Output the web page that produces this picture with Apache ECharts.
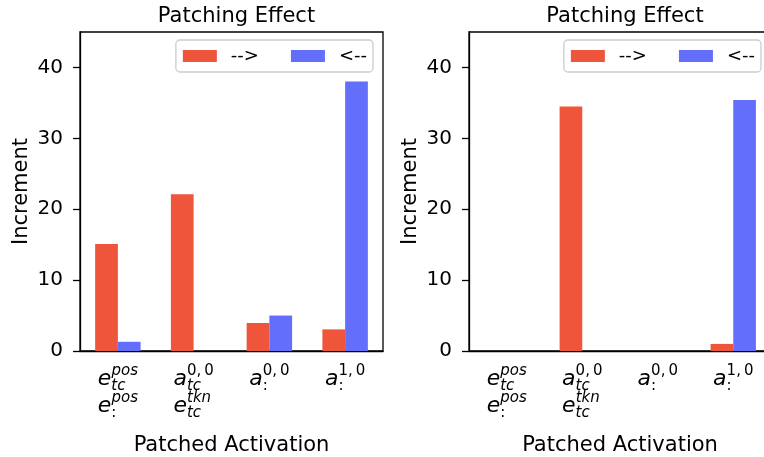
<!DOCTYPE html>
<html>
<head>
<meta charset="utf-8">
<script src="https://cdn.jsdelivr.net/npm/echarts@6/dist/echarts.min.js"></script>
<style>
html, body { margin: 0; padding: 0; background: #fff; }
#chart { width: 764px; height: 457px; }
</style>
</head>
<body>
<div id="chart"></div>
<script>
// categories (patched activations), one entry per tick
var categories = ['e_pos', 'a00_e_tkn', 'a00', 'a10'];
// tick label rows: [base, superscript, subscript]
var tickLabels = [
    [['e', 'pos', 'tc'], ['e', 'pos', ':']],
    [['a', '0,\u20090', 'tc'], ['e', 'tkn', 'tc']],
    [['a', '0,\u20090', ':']],
    [['a', '1,\u20090', ':']]
];
var seriesNames = ['-->', '<--'];
var forwardLeft = [15.1, 22.1, 3.95, 3.05];
var backwardLeft = [1.3, 0, 5.0, 38.0];
var forwardRight = [0, 34.5, 0, 1.0];
var backwardRight = [0, 0, 0, 35.4];
var yTicks = [0, 10, 20, 30, 40];

var FONT = 'DejaVu Sans';
var RED = '#EF553B';
var BLUE = '#636EFA';

var myChart = echarts.init(document.getElementById('chart'));

// mathtext-like label: sub has almost no width so the sup sits above it
function isUpright(s) {
    return /[0-9:]/.test(s);
}
function labelText(value, index) {
    var rows = tickLabels[index];
    var out = [];
    for (var i = 0; i < rows.length; i++) {
        var r = rows[i];
        out.push('{b|' + r[0] + '}' +
            '{' + (isUpright(r[2]) ? 'sbn' : 'sb') + '|' + r[2] + '}' +
            '{' + (isUpright(r[1]) ? 'spn' : 'sp') + '|' + r[1] + '}');
    }
    return out.join('\n');
}
var LH = 27;
var rich = {
    b:   { fontFamily: FONT, fontSize: 22, fontStyle: 'italic', lineHeight: LH, color: '#000', align: 'left' },
    sp:  { fontFamily: FONT, fontSize: 15, fontStyle: 'italic', lineHeight: LH, color: '#000', align: 'left', padding: [0, 0, 16, 0] },
    spn: { fontFamily: FONT, fontSize: 15, lineHeight: LH, color: '#000', align: 'left', padding: [0, 0, 16, 0] },
    sb:  { fontFamily: FONT, fontSize: 15, fontStyle: 'italic', lineHeight: LH, color: '#000', align: 'left', padding: [13, 0, 0, 0], width: 0.1 },
    sbn: { fontFamily: FONT, fontSize: 15, lineHeight: LH, color: '#000', align: 'left', padding: [13, 0, 0, 0], width: 0.1 }
};

var grids = [
    { left: 80, top: 32, width: 303, height: 319, outerBoundsMode: 'none', show: true, borderColor: '#000', borderWidth: 1.3 },
    { left: 469, top: 32, width: 302, height: 319, outerBoundsMode: 'none', show: true, borderColor: '#000', borderWidth: 1.3 }
];

function makeX(i) {
    return {
        type: 'category',
        gridIndex: i,
        data: categories,
        axisLine: { lineStyle: { color: '#000', width: 1.3 } },
        axisTick: { alignWithLabel: true, length: 7, lineStyle: { color: '#000', width: 1.3 } },
        axisLabel: { interval: 0, margin: 15, formatter: labelText, rich: rich, color: '#000' },
        name: 'Patched Activation',
        nameLocation: 'middle',
        nameGap: 84,
        nameTextStyle: { fontFamily: FONT, fontSize: 21, color: '#000' }
    };
}
function makeY(i) {
    return {
        type: 'value',
        gridIndex: i,
        min: 0,
        max: 45,
        splitLine: { show: false },
        axisLine: { show: true, lineStyle: { color: '#000', width: 1.3 } },
        axisTick: { show: true, length: 7, customValues: yTicks, lineStyle: { color: '#000', width: 1.3 } },
        axisLabel: { margin: 17, customValues: yTicks, fontFamily: FONT, fontSize: 20, color: '#000' },
        name: 'Increment',
        nameLocation: 'middle',
        nameGap: 48,
        nameTextStyle: { fontFamily: FONT, fontSize: 21, color: '#000' }
    };
}
function makeLegend(right) {
    return {
        data: seriesNames,
        right: right,
        top: 40,
        icon: 'rect',
        itemWidth: 34,
        itemHeight: 12,
        itemGap: 32,
        padding: [7, 6, 7, 7],
        borderColor: '#cccccc',
        borderWidth: 1.3,
        borderRadius: 4,
        backgroundColor: 'rgba(255,255,255,0.8)',
        textStyle: { fontFamily: FONT, fontSize: 18, color: '#000', padding: [0, 0, 0, 9] }
    };
}
function makeTitle(center) {
    return {
        text: 'Patching Effect',
        left: center,
        textAlign: 'center',
        top: 1,
        textStyle: { fontFamily: FONT, fontSize: 21, fontWeight: 'normal', color: '#000' }
    };
}
function makeBar(name, grid, data, color) {
    return {
        type: 'bar',
        name: name,
        xAxisIndex: grid,
        yAxisIndex: grid,
        data: data,
        barWidth: '30%',
        barGap: '0%',
        itemStyle: { color: color }
    };
}

myChart.setOption({
    animation: false,
    backgroundColor: '#fff',
    title: [makeTitle(231.5), makeTitle(620)],
    legend: [makeLegend(391), makeLegend(3)],
    grid: grids,
    xAxis: [makeX(0), makeX(1)],
    yAxis: [makeY(0), makeY(1)],
    series: [
        makeBar(seriesNames[0], 0, forwardLeft, RED),
        makeBar(seriesNames[1], 0, backwardLeft, BLUE),
        makeBar(seriesNames[0], 1, forwardRight, RED),
        makeBar(seriesNames[1], 1, backwardRight, BLUE)
    ]
});
</script>
</body>
</html>
